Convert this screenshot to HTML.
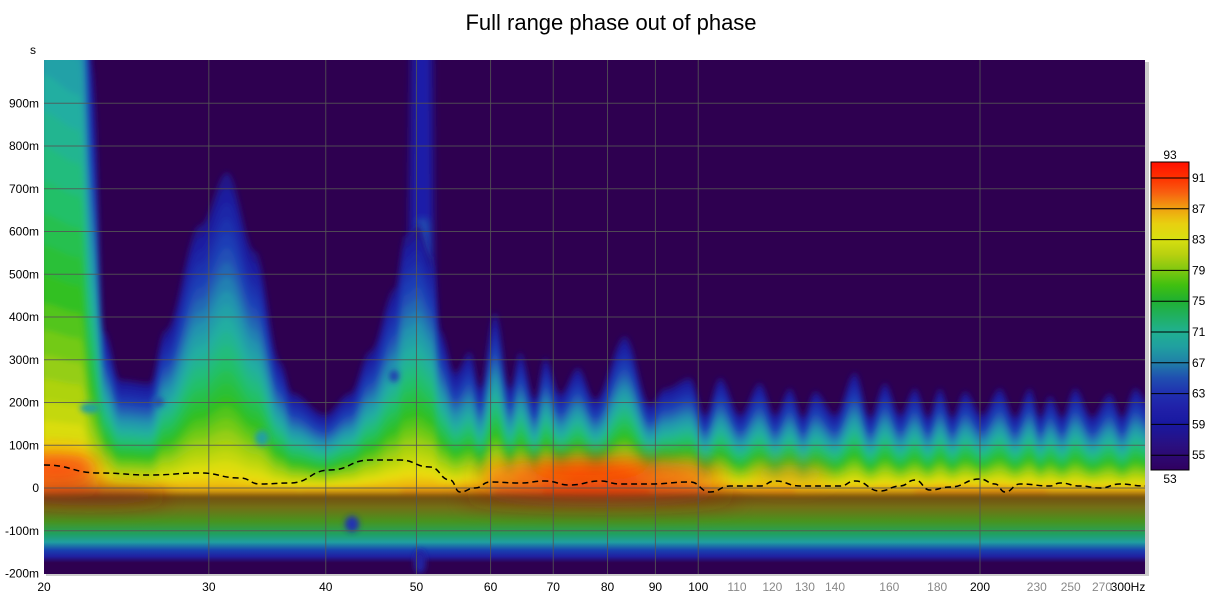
<!DOCTYPE html>
<html><head><meta charset="utf-8"><style>
body{margin:0;background:#fff;width:1222px;height:598px;overflow:hidden;font-family:"Liberation Sans",sans-serif}
</style></head><body>
<svg id="s" width="1222" height="598" xmlns="http://www.w3.org/2000/svg" font-family="Liberation Sans, sans-serif">
<defs>
<linearGradient id="low" x1="0" y1="470" x2="0" y2="573" gradientUnits="userSpaceOnUse">
<stop offset="0" stop-color="#b05010"/>
<stop offset="0.2" stop-color="#8a4a10"/>
<stop offset="0.36" stop-color="#807c18"/>
<stop offset="0.5" stop-color="#4a9a20"/>
<stop offset="0.62" stop-color="#20a060"/>
<stop offset="0.7" stop-color="#20a0a0"/>
<stop offset="0.78" stop-color="#1840b0"/>
<stop offset="0.84" stop-color="#2020a0"/>
<stop offset="0.9" stop-color="#2e0050"/>
<stop offset="1" stop-color="#2e0050"/>
</linearGradient>
<linearGradient id="cb" x1="0" y1="162" x2="0" y2="470" gradientUnits="userSpaceOnUse">
<stop offset="0" stop-color="#ff1000"/><stop offset="0.05" stop-color="#ff3000"/>
<stop offset="0.1" stop-color="#f86010"/><stop offset="0.15" stop-color="#f0a010"/>
<stop offset="0.2" stop-color="#e8d010"/><stop offset="0.25" stop-color="#d8e010"/>
<stop offset="0.3" stop-color="#b8d010"/><stop offset="0.35" stop-color="#80c810"/>
<stop offset="0.4" stop-color="#40c010"/><stop offset="0.45" stop-color="#20b030"/>
<stop offset="0.5" stop-color="#20b060"/><stop offset="0.55" stop-color="#20b090"/>
<stop offset="0.6" stop-color="#20a0a0"/><stop offset="0.65" stop-color="#2080a8"/>
<stop offset="0.7" stop-color="#2050b0"/><stop offset="0.75" stop-color="#2030b0"/>
<stop offset="0.8" stop-color="#2020a8"/><stop offset="0.85" stop-color="#1818a0"/>
<stop offset="0.92" stop-color="#2a1080"/><stop offset="1" stop-color="#300060"/>
</linearGradient>
<linearGradient id="dk" x1="0" y1="484" x2="0" y2="530" gradientUnits="userSpaceOnUse">
<stop offset="0" stop-color="#000" stop-opacity="0"/>
<stop offset="0.3" stop-color="#000" stop-opacity="0.15"/>
<stop offset="1" stop-color="#000" stop-opacity="0"/>
</linearGradient>
<filter id="bl" x="-5%" y="-5%" width="110%" height="110%"><feGaussianBlur stdDeviation="3"/></filter>
<filter id="bl2" x="-20%" y="-5%" width="140%" height="110%"><feGaussianBlur stdDeviation="4"/></filter>
<filter id="bl3" x="-30%" y="-50%" width="160%" height="200%"><feGaussianBlur stdDeviation="10"/></filter>
<clipPath id="cp"><rect x="44" y="60" width="1101" height="514"/></clipPath>
</defs>
<text x="611" y="30" font-size="22" text-anchor="middle" fill="#000">Full range phase out of phase</text>
<rect x="46" y="62" width="1103" height="514" fill="#ccc"/>
<g clip-path="url(#cp)">
<rect x="44" y="60" width="1101" height="514" fill="#2e0050"/>
<rect x="44" y="470" width="1101" height="104" fill="url(#low)"/>
<g filter="url(#bl2)">
<polygon points="406,470 412,50 432,50 434,300 440,470" fill="#1a1aa8"/>
<polygon points="414,470 418,220 428,220 432,470" fill="#2050b0"/>
</g>
<g id="lv" filter="url(#bl)"></g>
<rect x="44" y="484" width="1101" height="46" fill="url(#dk)"/>
<g filter="url(#bl3)">
<ellipse cx="600" cy="474" rx="125" ry="14" fill="#ff4010" opacity="0.75"/>
<ellipse cx="590" cy="470" rx="60" ry="10" fill="#ff2000" opacity="0.7"/>
<ellipse cx="790" cy="474" rx="40" ry="10" fill="#f07010" opacity="0.5"/>
<ellipse cx="55" cy="468" rx="45" ry="14" fill="#ff3010" opacity="0.8"/>
<ellipse cx="600" cy="498" rx="140" ry="10" fill="#802010" opacity="0.5"/>
<ellipse cx="90" cy="496" rx="80" ry="10" fill="#802010" opacity="0.55"/>
</g>
<g filter="url(#bl)">
<ellipse cx="90" cy="408" rx="10" ry="5" fill="#20a0a0"/>
<ellipse cx="158" cy="402" rx="6" ry="5" fill="#2050b0"/>
<ellipse cx="262" cy="438" rx="7" ry="8" fill="#20a0a0"/>
<ellipse cx="394" cy="376" rx="5" ry="6" fill="#2040b0"/>
<ellipse cx="352" cy="524" rx="7" ry="8" fill="#2030b0"/>
<ellipse cx="420" cy="562" rx="6" ry="12" fill="#2020a0"/>
</g>
<g id="grid" stroke="#555" stroke-width="1" stroke-opacity="0.85"></g>
<path id="dash" fill="none" stroke="#000" stroke-width="1.5" stroke-dasharray="6,4"/>
</g>
<g id="lab" font-size="12" fill="#000"></g>
<rect x="1151" y="162" width="38" height="308" fill="url(#cb)" stroke="#000" stroke-width="1"/>
<g id="cbl" font-size="12"></g>
</svg>
<script>
const NS="http://www.w3.org/2000/svg";
function el(t,a,p,txt){const e=document.createElementNS(NS,t);for(const k in a)e.setAttribute(k,a[k]);if(txt!==undefined)e.textContent=txt;p.appendChild(e);return e;}
function interp(pts,x){for(let i=0;i<pts.length-1;i++){if(x>=pts[i][0]&&x<=pts[i+1][0]){const t=(x-pts[i][0])/(pts[i+1][0]-pts[i][0]);const s=(1-Math.cos(Math.PI*t))/2;return pts[i][1]+(pts[i+1][1]-pts[i][1])*s;}}return pts[pts.length-1][1];}
const Bpt=[[40,800],[80,760],[92,400],[104,150],[120,103],[150,100],[165,150],[200,250],[227,300],[255,225],[280,120],[292,90],[325,70],[350,90],[370,130],[395,190],[405,240],[418,250],[432,220],[440,150],[455,110],[470,130],[480,95],[495,168],[510,95],[520,130],[535,85],[545,125],[560,90],[578,115],[595,85],[625,145],[650,80],[665,95],[690,105],[705,70],[720,105],[740,70],[760,100],[775,70],[790,95],[803,68],[815,92],[835,70],[855,110],[870,68],[885,100],[900,70],[915,95],[928,68],[940,95],[952,68],[965,92],[982,70],[1000,95],[1015,68],[1030,95],[1040,68],[1050,88],[1062,68],[1075,95],[1092,68],[1110,90],[1122,68],[1135,95],[1150,80]];
const Ipt=[[40,0.9],[80,0.9],[120,0.86],[209,0.84],[300,0.82],[400,0.85],[470,0.86],[520,0.9],[580,0.93],[620,0.92],[680,0.9],[740,0.86],[850,0.84],[980,0.86],[1150,0.83]];
const cmap=[[53,[46,0,80]],[57,[26,26,160]],[61,[32,64,184]],[65,[32,144,176]],[68,[32,176,160]],[71,[32,192,112]],[75,[48,192,32]],[79,[160,208,16]],[83,[232,224,16]],[87,[240,160,16]],[91,[255,64,0]],[93,[255,16,0]]];
function col(db){for(let i=0;i<cmap.length-1;i++){if(db<=cmap[i+1][0]){const t=(db-cmap[i][0])/(cmap[i+1][0]-cmap[i][0]);const a=cmap[i][1],b=cmap[i+1][1];return "rgb("+a.map((v,k)=>Math.round(v+(b[k]-v)*t)).join(",")+")";}}return "rgb(255,16,0)";}
const q=1.25;
const lv=document.getElementById("lv");
for(let t=0.07;t<=0.99;t+=0.03){let top=[];for(let x=40;x<=1150;x+=2){const B=interp(Bpt,x),I=interp(Ipt,x);const qq=x<100?1.6:q;const E=B/Math.pow(1-0.1/I,qq);let y=494;if(I>t){y=488-E*Math.pow(1-t/I,qq);}top.push(x+","+y.toFixed(1));}
el("polygon",{points:top.join(" ")+" 1150,494 40,494",fill:col(53+40*t)},lv);}
const g=document.getElementById("grid");
const X=f=>44+936*Math.log10(f/20);
[30,40,50,60,70,80,90,100,200].forEach(f=>el("line",{x1:X(f),x2:X(f),y1:60,y2:574},g));
for(let n=-1;n<=9;n++){const y=488-42.75*n;el("line",{x1:44,x2:1145,y1:y,y2:y},g);}
const dp=[[44,465],[100,473],[150,475],[200,473],[240,478],[260,484],[290,483],[330,470],[370,460],[400,460],[430,467],[450,480],[460,492],[475,488],[490,482],[520,483],[545,481],[570,485],[600,481],[620,484],[650,484],[690,482],[710,492],[730,486],[760,486],[775,481],[800,486],[840,486],[855,481],[880,491],[900,486],[915,480],[930,490],[950,487],[980,479],[995,484],[1005,492],[1020,484],[1050,486],[1060,483],[1080,486],[1100,488],[1120,484],[1145,486]];
let d="M"+dp[0].join(",");for(let i=1;i<dp.length;i++){const a=dp[i-1],b=dp[i],m=(a[0]+b[0])/2;d+=` C${m},${a[1]} ${m},${b[1]} ${b[0]},${b[1]}`;}
document.getElementById("dash").setAttribute("d",d);
const lab=document.getElementById("lab");
el("text",{x:33,y:54,"text-anchor":"middle"},lab,"s");
const yl=["-200m","-100m","0","100m","200m","300m","400m","500m","600m","700m","800m","900m"];
yl.forEach((s,i)=>{const y=488-42.75*(i-2);el("text",{x:39,y:y+4,"text-anchor":"end"},lab,s);});
const maj=[20,30,40,50,60,70,80,90,100,200];
[20,30,40,50,60,70,80,90,100,110,120,130,140,160,180,200,230,250,270].forEach(f=>{el("text",{x:X(f),y:591,"text-anchor":"middle",fill:maj.includes(f)?"#000":"#888"},lab,String(f));});
el("text",{x:1128,y:591,"text-anchor":"middle"},lab,"300Hz");
const cbl=document.getElementById("cbl");
el("text",{x:1170,y:159,"text-anchor":"middle"},cbl,"93");
el("text",{x:1170,y:483,"text-anchor":"middle"},cbl,"53");
[91,87,83,79,75,71,67,63,59,55].forEach((v,i)=>{const y=178+i*30.8;el("line",{x1:1151,x2:1189,y1:y,y2:y,stroke:"#000"},cbl);el("text",{x:1192,y:y+4},cbl,String(v));});
</script>
</body></html>
